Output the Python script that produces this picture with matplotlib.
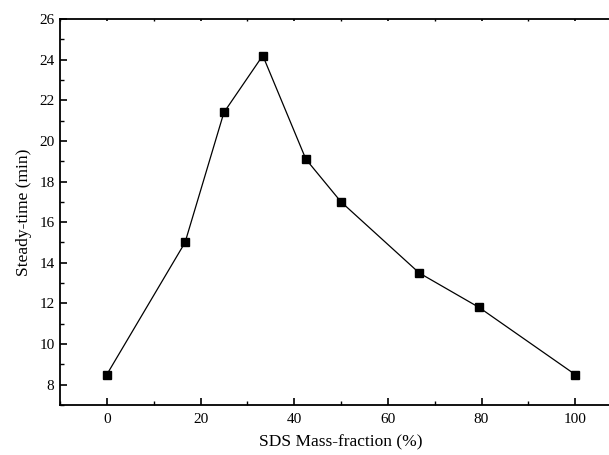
import matplotlib

matplotlib.use("Agg")
import matplotlib.pyplot as plt
from matplotlib.ticker import MultipleLocator

# SDS mass fraction (%) vs steady time (min)
sds_fraction = [0, 16.7, 25, 33.3, 42.5, 50, 66.7, 79.5, 100]
steady_time = [8.5, 15.0, 21.4, 24.2, 19.1, 17.0, 13.5, 11.8, 8.5]

plt.rcParams["font.family"] = ["Liberation Serif", "DejaVu Serif"]

fig = plt.figure(figsize=(6.09, 4.55), dpi=100)
# axes run off the right edge like the original screenshot crop
ax = fig.add_axes([60 / 609, 1 - 405 / 455, 562 / 609, 386 / 455])

ax.plot(sds_fraction, steady_time, color="black", lw=0.9,
        marker="s", markersize=5.5, markerfacecolor="black", markeredgecolor="black")

ax.set_xlim(-10, 110)
ax.set_ylim(7, 26)
ax.xaxis.set_major_locator(MultipleLocator(20))
ax.xaxis.set_minor_locator(MultipleLocator(10))
ax.yaxis.set_major_locator(MultipleLocator(2))
ax.yaxis.set_minor_locator(MultipleLocator(1))

ax.tick_params(which="major", direction="in", length=5, width=1.2, labelsize=11)
ax.tick_params(which="minor", direction="in", length=3, width=1.0)
ax.tick_params(axis="x", which="major", pad=6)
ax.tick_params(axis="y", which="major", pad=4)
ax.tick_params(axis="x", which="both", top=True)
ax.tick_params(axis="x", which="both", top=True, bottom=True)
ax.tick_params(axis="x", which="major", length=5)
for side in ("left", "bottom", "top", "right"):
    ax.spines[side].set_linewidth(1.3)

ax.set_xlabel("SDS Mass-fraction (%)", fontsize=12.5, labelpad=6)
ax.set_ylabel("Steady-time (min)", fontsize=12.5, labelpad=5)

# top ticks are barely visible in the original
for t in ax.xaxis.get_major_ticks() + ax.xaxis.get_minor_ticks():
    t.tick2line.set_markersize(1.5)

fig.savefig("out.png", dpi=100)
